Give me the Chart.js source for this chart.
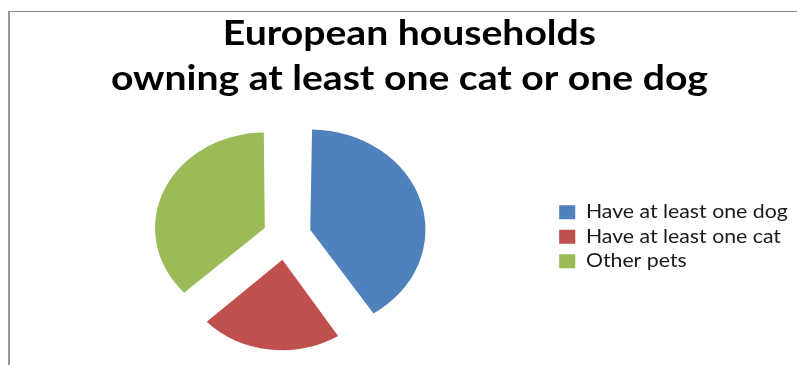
<!DOCTYPE html>
<html>
<head>
<meta charset="utf-8">
<script src="https://cdn.jsdelivr.net/npm/chart.js@4"></script>
<style>
    html, body { margin: 0; padding: 0; background: #fff; }
    body { width: 797px; height: 365px; overflow: hidden; position: relative; }
    #frame {
        position: absolute; left: 8px; top: 11px; width: 900px; height: 400px;
        border-left: 2px solid #9a9a9a; border-top: 1px solid #8a8a8a;
    }
    #wrap { position: absolute; left: 0; top: 0; width: 797px; height: 365px; }
</style>
</head>
<body>
<div id="frame"></div>
<div id="wrap"><canvas id="myChart"></canvas></div>
<script>
const titleLines = ['European households', 'owning at least one cat or one dog'];
const categories = ['Have at least one dog', 'Have at least one cat', 'Other pets'];
const shares = [41, 22, 37];
const sliceColors = ['#4F81BD', '#C0504D', '#9BBB59'];

const STRETCH = 1.15; // the reference picture is stretched sideways

const stretchAll = {
    id: 'stretchAll',
    beforeDraw(chart) {
        chart.ctx.save();
        chart.ctx.scale(STRETCH, 1);
    },
    afterDraw(chart) {
        chart.ctx.restore();
    }
};

const ctx = document.getElementById('myChart').getContext('2d');
new Chart(ctx, {
    type: 'pie',
    data: {
        labels: categories,
        datasets: [{
            data: shares,
            backgroundColor: sliceColors,
            borderWidth: 0,
            offset: [88, 96, 80]
        }]
    },
    options: {
        responsive: true,
        maintainAspectRatio: false,
        animation: false,
        radius: 90,
        layout: { padding: { left: 17, right: 102, top: 0, bottom: 6 } },
        plugins: {
            title: {
                display: true,
                text: titleLines,
                color: '#000',
                font: { family: 'Lato', size: 34, weight: 'bold', lineHeight: 1.32 },
                padding: { top: 12, bottom: 11 }
            },
            legend: {
                position: 'right',
                align: 'start',
                title: {
                    display: true,
                    text: ' ',
                    font: { size: 12, lineHeight: 1 },
                    padding: { top: 185, bottom: 0 }
                },
                labels: {
                    color: '#1a1a1a',
                    font: { family: 'Lato', size: 18.5 },
                    boxWidth: 14,
                    boxHeight: 14,
                    padding: 6
                }
            },
            tooltip: { enabled: false }
        }
    },
    plugins: [stretchAll]
});
</script>
</body>
</html>
